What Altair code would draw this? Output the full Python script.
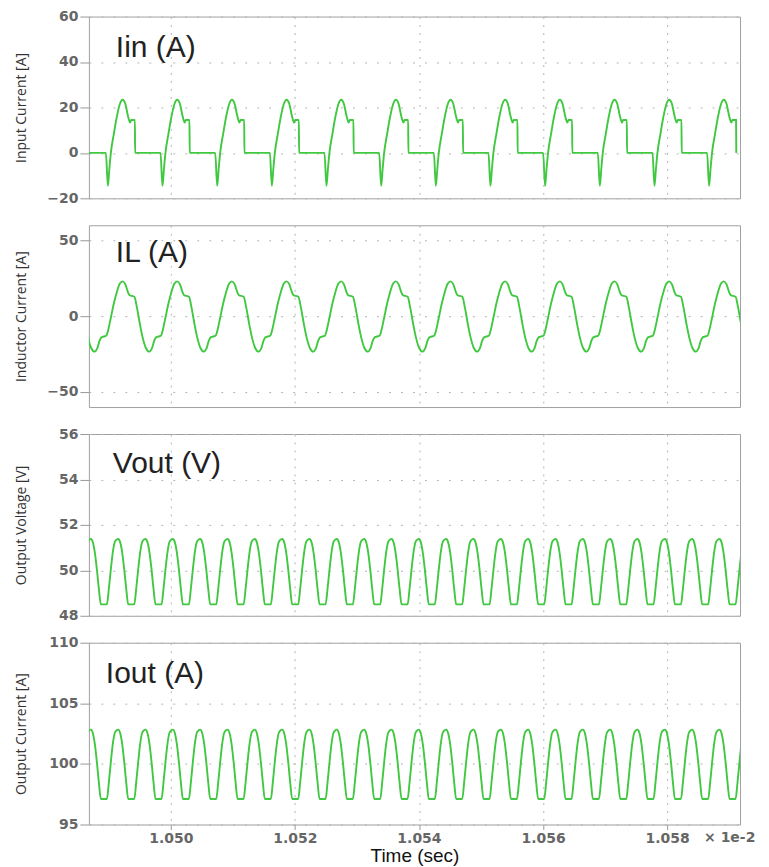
import altair as alt
import pandas as pd

# ---------------- data (time axis in units of 1e-2 s) ----------------
X_DOMAIN = [1.04868, 1.059175]
X_TICKS = [1.050, 1.052, 1.054, 1.056, 1.058]

# Input current: switching instants (negative spike minima)
IIN_SPIKE_T = [1.048105, 1.048986, 1.049866, 1.050748, 1.051629, 1.052509,
               1.053391, 1.054272, 1.055152, 1.056033, 1.056915, 1.057796,
               1.058676]
# one switching cycle, offsets in 1e-5 axis units relative to the spike
IIN_DT = [-3.2, 0.0, 2.4, 4.8, 9.7, 14.5, 19.3, 23.7, 28.2, 32.2, 35.9, 37.5, 43.5, 43.9]
IIN_VAL = [0, -14.5, -7, 0, 8.5, 16, 21.5, 23.4, 21.5, 16.5, 13.3, 14.5, 14.5, 0]

# Inductor current, same cycle timing
IL_DT = [0.0, 4.8, 9.7, 14.5, 19.3, 23.7, 28.2, 32.2, 34.6, 42.7, 46.7, 51.5,
         56.3, 61.2, 66.8, 70.8, 74.9, 77.7, 85.8]
IL_VAL = [-10, -1, 8.5, 16, 21.5, 23, 21, 16, 14, 12.8, 6, -5, -14.5, -21,
          -23.4, -21.5, -16, -14, -12.8]

# Output voltage / current ripple peaks
RIPPLE_PEAK_T = [1.048271, 1.048712, 1.049153, 1.049593, 1.050034, 1.050475,
                 1.050916, 1.051355, 1.051796, 1.052237, 1.052677, 1.053118,
                 1.053559, 1.053998, 1.054439, 1.054880, 1.055322, 1.055761,
                 1.056202, 1.056643, 1.057084, 1.057523, 1.057965, 1.058404,
                 1.058845]
RIPPLE_DT = [0.0, 3.2, 6.4, 9.7, 12.9, 16.1, 25.8, 29.0, 32.2, 35.4, 38.6, 41.9]
VOUT_VAL = [51.38, 51.23, 50.78, 50.03, 49.18, 48.5, 48.5, 49.2, 50.05, 50.8, 51.25, 51.36]
IOUT_VAL = [102.83, 102.53, 101.63, 100.14, 98.45, 97.1, 97.1, 98.49, 100.18,
            101.67, 102.57, 102.79]


def build(starts, dts, vals):
    rows = []
    for s in starts:
        for d, v in zip(dts, vals):
            rows.append({"t": s + d * 1e-5, "v": v})
    return pd.DataFrame(rows).sort_values("t").reset_index(drop=True)


df_iin = build(IIN_SPIKE_T, IIN_DT, IIN_VAL)
df_il = build(IIN_SPIKE_T, IL_DT, IL_VAL)
df_vout = build(RIPPLE_PEAK_T, RIPPLE_DT, VOUT_VAL)
df_iout = build(RIPPLE_PEAK_T, RIPPLE_DT, IOUT_VAL)

GREEN = "#40c840"
W, H = 652, 182


def panel(df, ydom, yticks, ytitle, label, lx, ly, bottom=False):
    if bottom:
        xaxis = alt.Axis(values=X_TICKS, format=".3f", title="Time (sec)", grid=True,
                         labels=True, ticks=True, tickSize=5, labelPadding=2,
                         titleY=37, titleBaseline="alphabetic",
                         titleFont="Liberation Sans", titleFontSize=19,
                         titleFontWeight="normal", titleColor="#111")
    else:
        xaxis = alt.Axis(values=X_TICKS, title=None, grid=True, labels=False, ticks=False)
    yaxis = alt.Axis(values=yticks, title=ytitle, titleX=-67.5, titleY=H / 2,
                     titleBaseline="middle", titleAlign="center",
                     titleFont="Open Sans", titleFontSize=14,
                     titleFontWeight="normal", titleColor="#333")
    line = alt.Chart(df).mark_line(color=GREEN, strokeWidth=1.9, clip=True,
                                   interpolate="monotone").encode(
        x=alt.X("t:Q", scale=alt.Scale(domain=X_DOMAIN, nice=False, zero=False), axis=xaxis),
        y=alt.Y("v:Q", scale=alt.Scale(domain=ydom, nice=False, zero=False), axis=yaxis),
    )
    lab = alt.Chart(pd.DataFrame({"s": [label]})).mark_text(
        font="Liberation Sans", fontSize=30, color="#222", align="left",
        baseline="alphabetic").encode(x=alt.value(lx), y=alt.value(ly), text="s:N")
    layers = [line, lab]
    if bottom:
        suffix = alt.Chart(pd.DataFrame({"s": ["× 1e-2"], "t": [1.058]})).mark_text(
            font="DejaVu Sans", fontWeight="bold", fontSize=14, color="#666",
            align="left", baseline="top", dx=37).encode(
            x="t:Q", y=alt.value(H + 7), text="s:N")
        layers.append(suffix)
    return alt.layer(*layers).properties(width=W, height=H)


p1 = panel(df_iin, [-20, 60], [-20, 0, 20, 40, 60], "Input Current [A]", "Iin (A)", 27, 40.5)
p2 = panel(df_il, [-60, 60], [-50, 0, 50], "Inductor Current [A]", "IL (A)", 27, 37)
p3 = panel(df_vout, [48, 56], [48, 50, 52, 54, 56], "Output Voltage [V]", "Vout (V)", 24, 39)
p4 = panel(df_iout, [95, 110], [95, 100, 105, 110], "Output Current [A]", "Iout (A)", 17, 40,
           bottom=True)

chart = alt.vconcat(p1, p2, p3, p4, spacing=27, bounds="flush").properties(
    padding={"top": 0, "left": 5, "right": 5, "bottom": 5},
    background="white",
).configure_view(
    stroke="#a0a0a0", strokeWidth=1
).configure_axis(
    domain=False, gridColor="#b5b5b5", gridWidth=1,
    labelFont="DejaVu Sans", labelFontWeight="bold", labelFontSize=14,
    labelColor="#666", tickColor="#999"
).configure_axisX(
    gridDash=[2, 6]
).configure_axisY(
    gridDash=[2, 10], tickSize=9, labelPadding=2
)

chart.save("out.html", embed_options={"renderer": "svg", "actions": False})
